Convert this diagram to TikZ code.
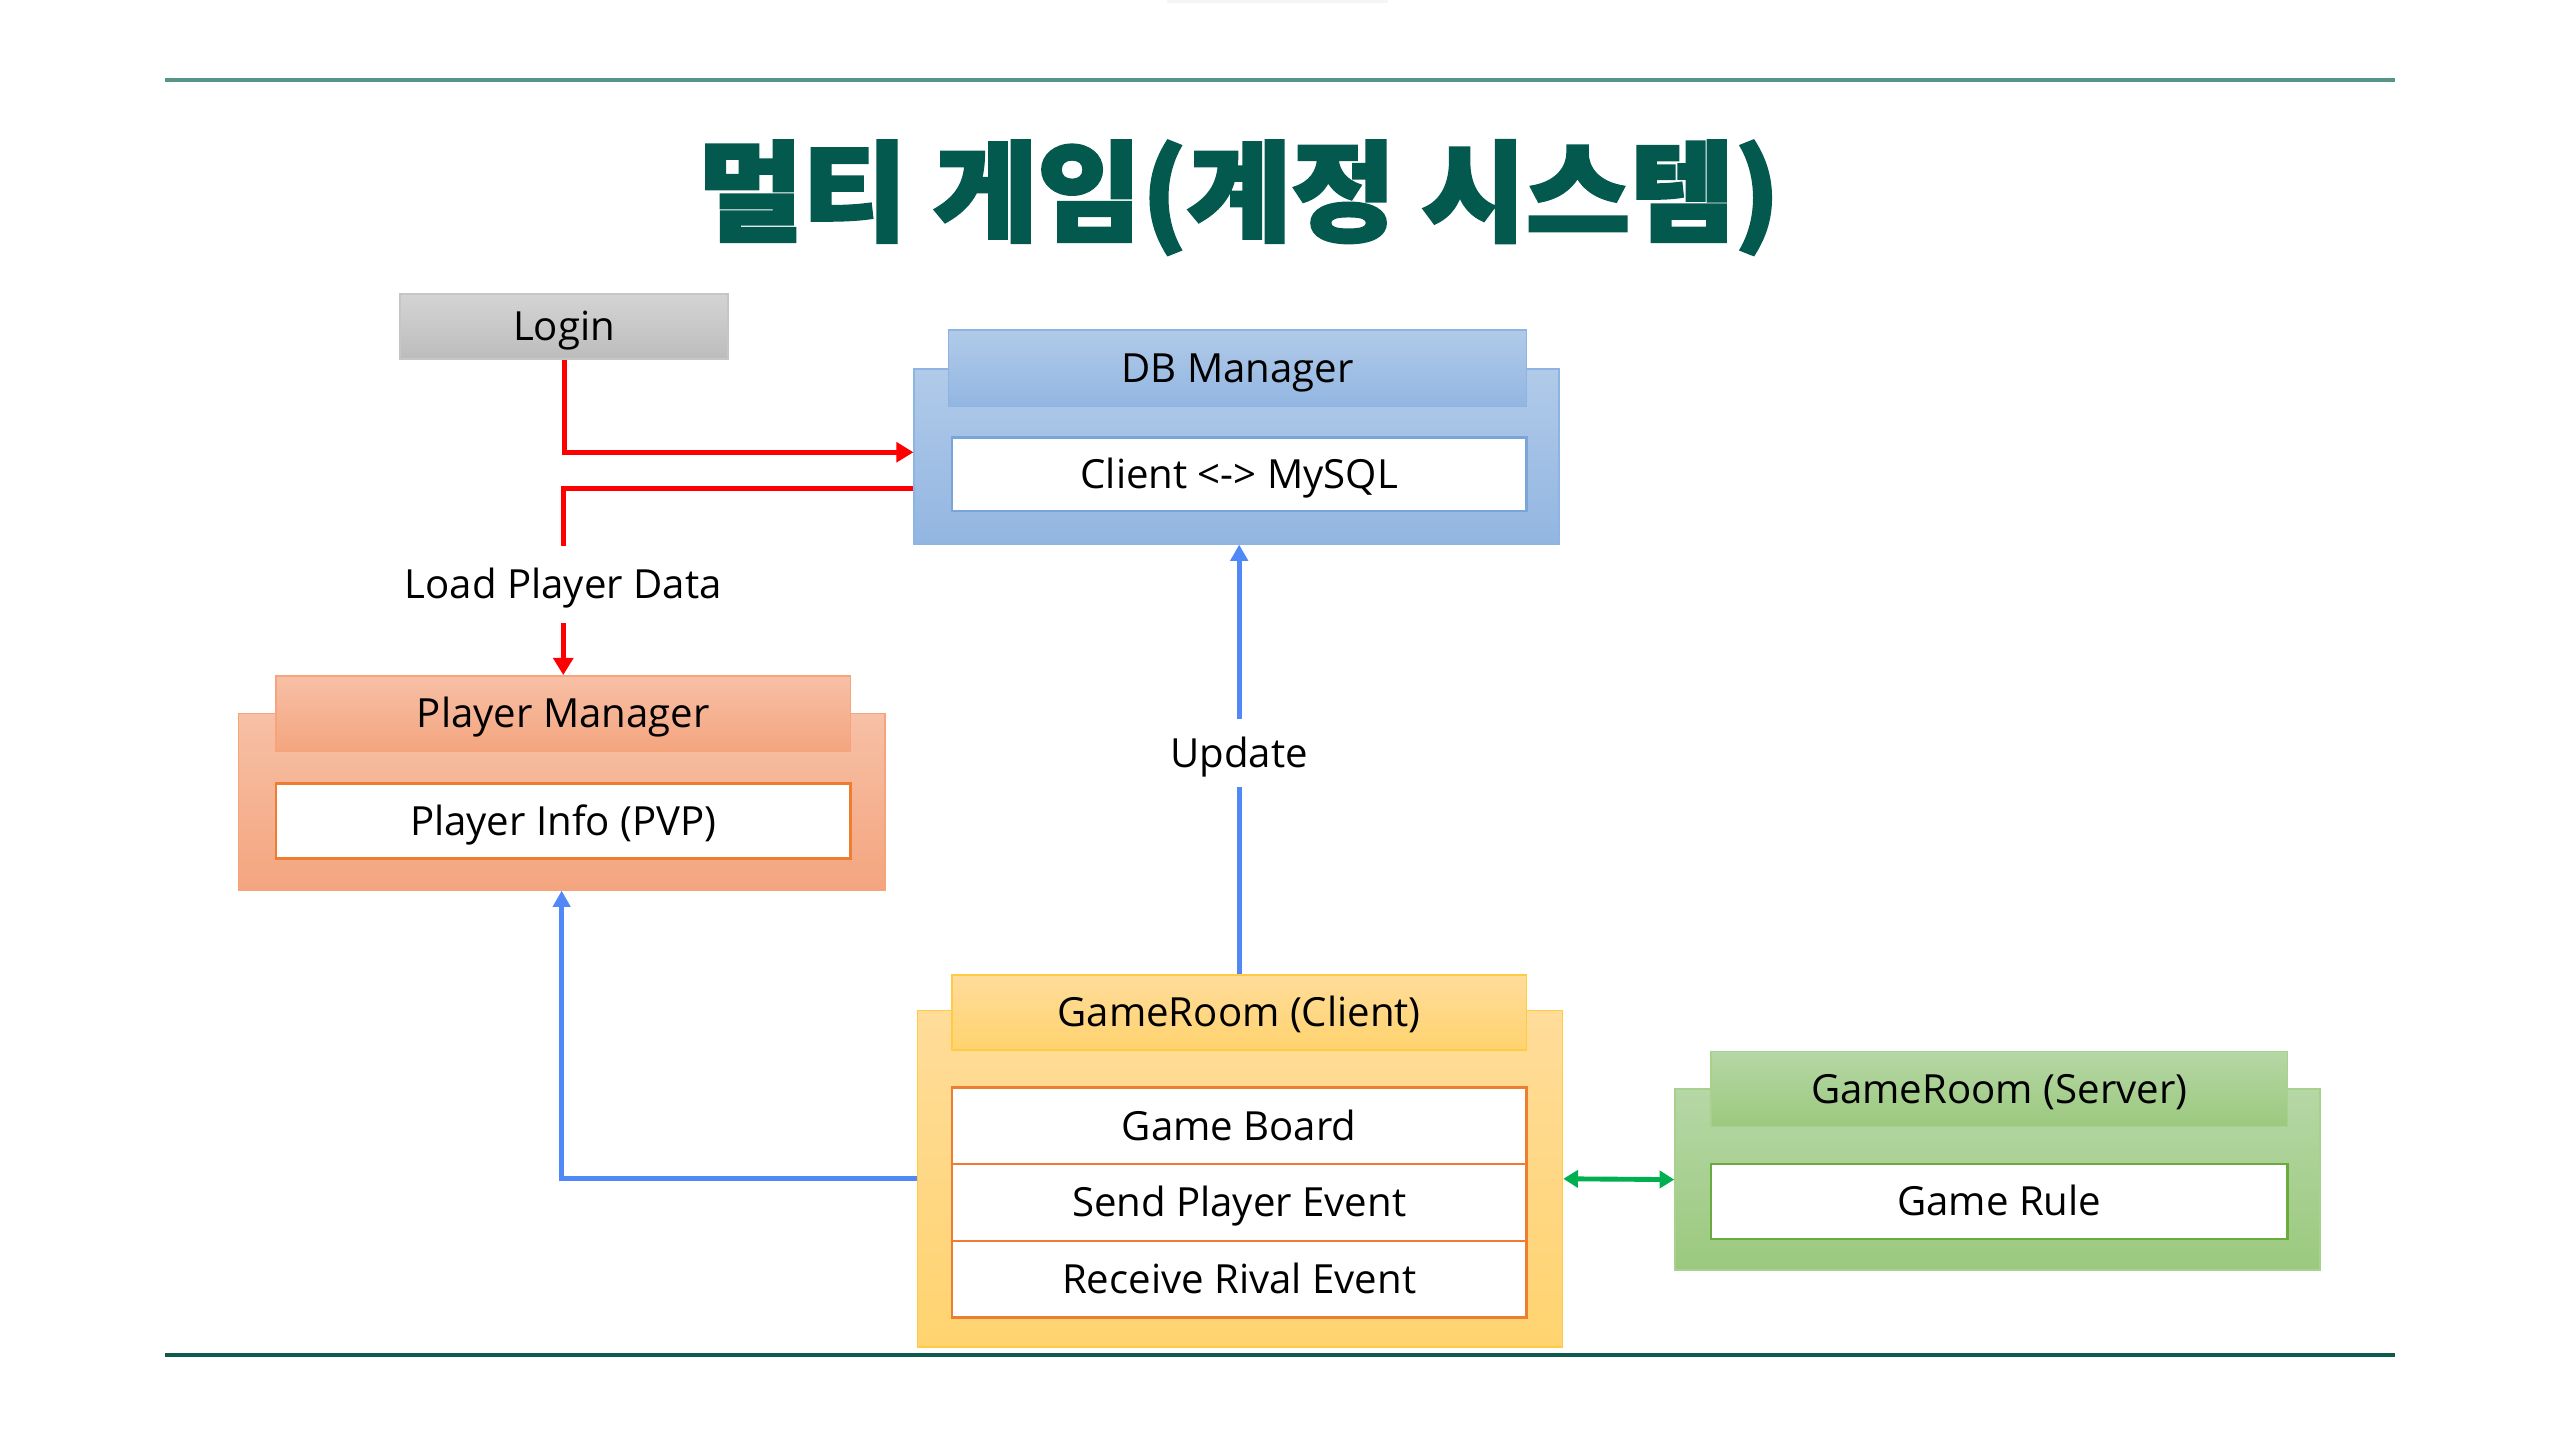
\documentclass[tikz,border=0pt]{standalone}
\usepackage{fontspec}
\setmainfont{Open Sans}
\newfontfamily\kr{Noto Sans CJK KR}[FakeBold=2.5]
\usetikzlibrary{arrows.meta,fit,shadings}
\definecolor{titlegreen}{HTML}{03594E}
\definecolor{toplinec}{HTML}{5A9387}
\definecolor{botlinec}{HTML}{0E5A4E}
\definecolor{dbtop}{HTML}{B1CAE9}
\definecolor{dbbot}{HTML}{92B6E1}
\definecolor{dbline}{HTML}{8DB4E3}
\definecolor{dbinner}{HTML}{7AA5D8}
\definecolor{pmtop}{HTML}{F7C0A6}
\definecolor{pmbot}{HTML}{F4A57F}
\definecolor{pmline}{HTML}{F5A47C}
\definecolor{orangeline}{HTML}{ED7D31}
\definecolor{gctop}{HTML}{FFDC9A}
\definecolor{gcbot}{HTML}{FFD36F}
\definecolor{gcline}{HTML}{FFCB45}
\definecolor{gstop}{HTML}{B6D7A6}
\definecolor{gsbot}{HTML}{9BC97E}
\definecolor{gsline}{HTML}{A9D18E}
\definecolor{gsinner}{HTML}{6AAA3F}
\definecolor{logintop}{HTML}{D4D4D4}
\definecolor{loginbot}{HTML}{BCBCBC}
\definecolor{loginline}{HTML}{C6C6C6}
\definecolor{redc}{HTML}{FF0000}
\definecolor{bluec}{HTML}{5089F7}
\definecolor{greenc}{HTML}{00B050}
\begin{document}
\begin{tikzpicture}[x=0.02cm,y=-0.02cm,
  every node/.style={font=\fontsize{14}{16}\selectfont, text=black},
  box/.style={inner sep=0pt, line width=0.6pt},
  whitebox/.style={box, fill=white, line width=0.9pt},
  txt/.style={inner sep=0pt, text height=10pt, text depth=0pt},
  lbl/.style={inner sep=0pt, text height=10pt, text depth=0pt, minimum height=0.94cm},
  conn/.style={line width=1.7pt},
  redarrow/.style={conn, draw=redc, -{Triangle[length=0.21cm,width=0.24cm]}},
  redline/.style={conn, draw=redc},
  bluearrow/.style={conn, draw=bluec, -{Triangle[length=0.2cm,width=0.21cm]}},
  blueline/.style={conn, draw=bluec},
  greenarrow/.style={conn, draw=greenc, {Triangle[length=0.18cm,width=0.21cm]}-{Triangle[length=0.18cm,width=0.21cm]}}
]
\useasboundingbox (0,0) rectangle (1568,882);
\fill[black!4] (715,-4) rectangle (850,2);

% rules
\draw[toplinec, line width=1.3pt] (101,49) -- (1467,49);
\draw[botlinec, line width=1.5pt] (101,830) -- (1467,830);

% title
\node[font=\kr\bfseries\fontsize{38}{42}\selectfont, text=titlegreen, inner sep=0pt] (title) at (759,121) {\scalebox{1.04}[1]{멀티 게임(계정 시스템)}};

% Login
\node[box, fit={(245,180)(446,220)}, draw=loginline, top color=logintop, bottom color=loginbot] (login) {};
\node[txt] (logintxt) at (login.center) {Login};

% DB Manager
\node[box, fit={(560,226)(955,333)}, draw=dbline, top color=dbtop, bottom color=dbbot] (dbout) {};
\node[box, fit={(581,202)(935,249)}, draw=dbline, top color=dbtop, bottom color=dbbot] (dbhead) {};
\node[txt] (dbheadtxt) at (dbhead.center) {DB Manager};
\node[whitebox, fit={(583,268)(935,313)}, draw=dbinner] (dbinner) {};
\node[txt] (dbinnertxt) at (dbinner.center) {Client <-> MySQL};

% Player Manager
\node[box, fit={(146,437)(542,545)}, draw=pmline, top color=pmtop, bottom color=pmbot] (pmout) {};
\node[box, fit={(169,414)(521,460)}, draw=pmline, top color=pmtop, bottom color=pmbot] (pmhead) {};
\node[txt] (pmheadtxt) at (pmhead.center) {Player Manager};
\node[whitebox, fit={(169,480)(521,526)}, draw=orangeline] (pminner) {};
\node[txt] (pminnertxt) at (pminner.center) {Player Info (PVP)};

% GameRoom (Client)
\node[box, fit={(562,619)(957,825)}, draw=gcline, top color=gctop, bottom color=gcbot] (gcout) {};
\node[box, fit={(583,597)(935,643)}, draw=gcline, top color=gctop, bottom color=gcbot] (gchead) {};
\node[txt] (gcheadtxt) at (gchead.center) {GameRoom (Client)};
\node[whitebox, fit={(583,666)(935,713)}, draw=orangeline] (gc1) {};
\node[txt] (gc1txt) at (gc1.center) {Game Board};
\node[whitebox, fit={(583,713)(935,760)}, draw=orangeline] (gc2) {};
\node[txt] (gc2txt) at (gc2.center) {Send Player Event};
\node[whitebox, fit={(583,760)(935,807)}, draw=orangeline] (gc3) {};
\node[txt] (gc3txt) at (gc3.center) {Receive Rival Event};

% GameRoom (Server)
\node[box, fit={(1026,667)(1421,778)}, draw=gsline, top color=gstop, bottom color=gsbot] (gsout) {};
\node[box, fit={(1048,644)(1401,690)}, draw=gsline, top color=gstop, bottom color=gsbot] (gshead) {};
\node[txt] (gsheadtxt) at (gshead.center) {GameRoom (Server)};
\node[whitebox, fit={(1048,713)(1401,759)}, draw=gsinner] (gsinner) {};
\node[txt] (gsinnertxt) at (gsinner.center) {Game Rule};

% labels
\node[lbl] (loadlbl) at (345,358) {Load Player Data};
\node[lbl, minimum height=0.82cm] (updlbl) at (759,461) {Update};

% connectors
\draw[redarrow] (login.south) |- ([yshift=0.05cm]dbout.west);
\draw[redline] ([yshift=-0.39cm]dbout.west) -| (loadlbl.north);
\draw[redarrow] (loadlbl.south) -- (pmhead.north);
\draw[blueline] (gchead.north) -- (updlbl.south);
\draw[bluearrow] (updlbl.north) -- (updlbl.north |- dbout.south);
\draw[bluearrow] (gcout.west) -| (pmout.south);
\draw[greenarrow] (gcout.east) -- (gsout.west);
\end{tikzpicture}
\end{document}
